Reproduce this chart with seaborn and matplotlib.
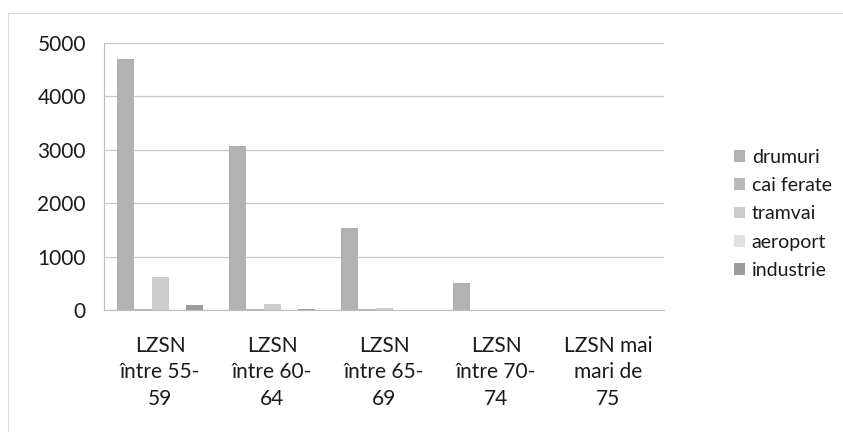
import matplotlib
matplotlib.use("Agg")
import matplotlib.pyplot as plt
import seaborn as sns
import pandas as pd
import numpy as np
from matplotlib.lines import Line2D

categories = ["LZSN\nîntre 55-\n59", "LZSN\nîntre 60-\n64", "LZSN\nîntre 65-\n69",
              "LZSN\nîntre 70-\n74", "LZSN mai\nmari de\n75"]
series = ["drumuri", "cai ferate", "tramvai", "aeroport", "industrie"]
drumuri = [4700, 3070, 1530, 500, 0]
cai_ferate = [25, 10, 10, 5, 0]
tramvai = [610, 120, 35, 0, 0]
aeroport = [0, 0, 0, 0, 0]
industrie = [90, 10, 5, 0, 0]
y_ticks = [0, 1000, 2000, 3000, 4000, 5000]
colors = ["#b2b2b2", "#b8b8b8", "#cdcdcd", "#e2e2e2", "#9c9c9c"]

values = {"drumuri": drumuri, "cai ferate": cai_ferate, "tramvai": tramvai,
          "aeroport": aeroport, "industrie": industrie}
rows = []
for s in series:
    for c, v in zip(categories, values[s]):
        rows.append({"cat": c, "serie": s, "val": v})
df = pd.DataFrame(rows)

sns.set_style("white")
plt.rcParams["font.family"] = ["Lato", "DejaVu Sans"]

fig = plt.figure(figsize=(8.43, 4.32), dpi=100)
ax = fig.add_axes([0.1234, 0.2824, 0.6643, 0.6181])

sns.barplot(data=df, x="cat", y="val", hue="serie", order=categories,
            hue_order=series, palette=colors, width=0.76, saturation=1,
            edgecolor="none", ax=ax)

ax.set_ylim(0, 5000)
ax.set_xlim(-0.5, len(categories) - 0.5)
ax.set_yticks(y_ticks)
ax.set_yticklabels([str(t) for t in y_ticks], fontsize=15, color="#1a1a1a")
ax.set_xticklabels(categories, fontsize=15, color="#1a1a1a", linespacing=1.38)
ax.set_xlabel("")
ax.set_ylabel("")
ax.grid(axis="y", color="#c8c8c8", linewidth=0.9)
ax.set_axisbelow(True)
for side in ["top", "right"]:
    ax.spines[side].set_visible(False)
ax.spines["left"].set_color("#bdbdbd")
ax.spines["bottom"].set_color("#bdbdbd")
ax.tick_params(axis="y", length=5, color="#bdbdbd", pad=8)
ax.tick_params(axis="x", which="major", length=0, pad=19)
ax.set_xticks(np.arange(-0.5, len(categories)), minor=True)
ax.tick_params(axis="x", which="minor", length=5, color="#bdbdbd")

leg = ax.legend(loc="center left", bbox_to_anchor=(1.094, 0.36), frameon=False,
                fontsize=14, handlelength=0.55, handleheight=0.55,
                handletextpad=0.35, labelspacing=0.58)
for t in leg.get_texts():
    t.set_color("#1a1a1a")

# faint chart-area frame along the top and left edges
frame_x = 8 / 843
frame_y = 1 - 13 / 432
fig.add_artist(Line2D([frame_x, 1.0], [frame_y, frame_y], transform=fig.transFigure,
                      color="#dcdcdc", linewidth=0.8))
fig.add_artist(Line2D([frame_x, frame_x], [0.0, frame_y], transform=fig.transFigure,
                      color="#dcdcdc", linewidth=0.8))

fig.savefig("out.png", dpi=100)
